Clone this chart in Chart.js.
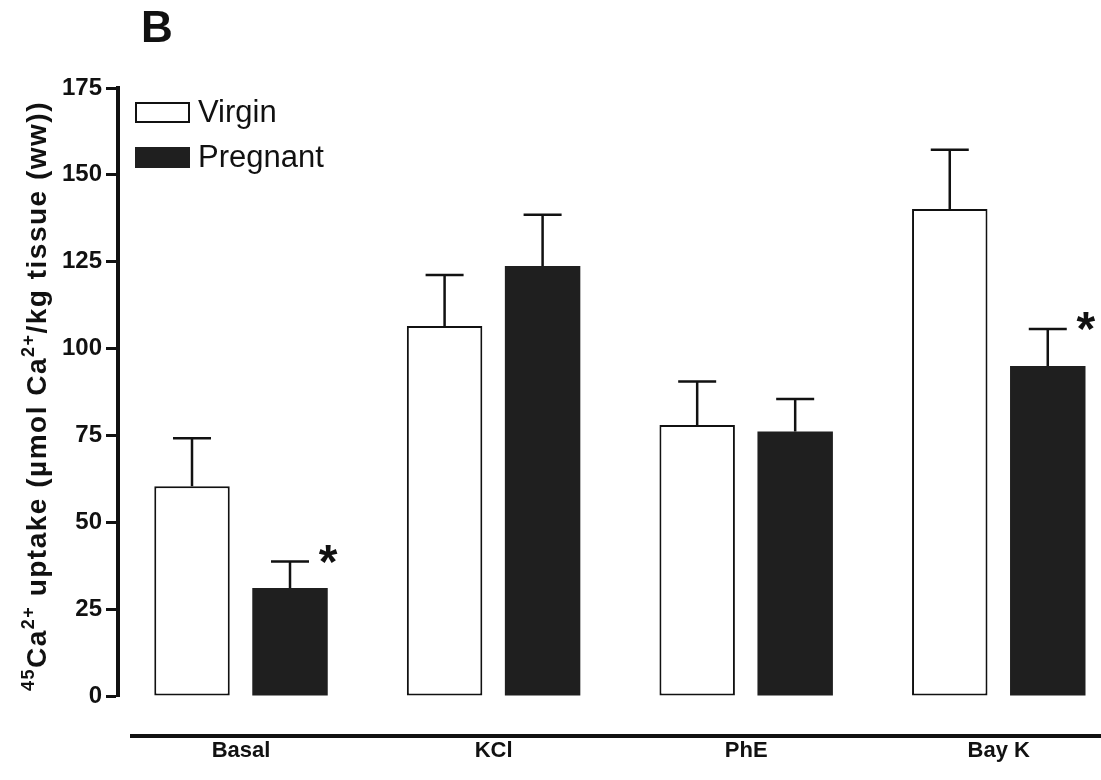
<!DOCTYPE html>
<html>
<head>
<meta charset="utf-8">
<script src="https://cdn.jsdelivr.net/npm/chart.js@4.4.1/dist/chart.umd.min.js"></script>
<style>
  html, body { margin: 0; padding: 0; background: #fff; overflow: hidden; }
  #wrap { width: 1101px; height: 780px; position: relative; }
</style>
</head>
<body>
<div id="wrap"><canvas id="myChart"></canvas></div>
<script>
// groups along the x axis
const categories = ["Basal", "KCl", "PhE", "Bay K"];

// 45Ca uptake, mean and SEM
const virginMean = [60.4, 106.5, 78.0, 140.2];
const virginSem = [13.8, 14.7, 12.5, 17.0];
const pregnantMean = [31.1, 123.8, 76.1, 95.0];
const pregnantSem = [7.6, 14.7, 9.4, 10.6];

// asterisk over pregnant bars
const pregnantStar = [true, false, false, true];

const yTicks = [0, 25, 50, 75, 100, 125, 150, 175];

const ink = "#111111";
const darkFill = "#1f1f1f";
const fontFamily = "'Liberation Sans', Arial, Helvetica, sans-serif";

const toPoints = (values) => values.map((v, i) => ({ x: i, y: v }));

// error caps, asterisks, axis line, legend and labels drawn on top
const extras = {
  id: "extras",
  afterDatasetsDraw(chart) {
    const ctx = chart.ctx;
    const yScale = chart.scales.y;
    const area = chart.chartArea;

    ctx.save();

    // one-sided SEM bars
    const sems = [virginSem, pregnantSem];
    chart.data.datasets.forEach((ds, d) => {
      const meta = chart.getDatasetMeta(d);
      meta.data.forEach((bar, i) => {
        const top = yScale.getPixelForValue(ds.data[i].y + sems[d][i]);
        ctx.strokeStyle = ink;
        ctx.lineWidth = 2.5;
        ctx.beginPath();
        ctx.moveTo(bar.x, bar.y);
        ctx.lineTo(bar.x, top);
        ctx.moveTo(bar.x - 19, top);
        ctx.lineTo(bar.x + 19, top);
        ctx.stroke();

        if (d === 1 && pregnantStar[i]) {
          ctx.fillStyle = ink;
          ctx.font = "bold 48px " + fontFamily;
          ctx.textAlign = "center";
          ctx.textBaseline = "middle";
          ctx.fillText("*", bar.x + 38, top + 3);
        }
      });
    });

    // detached x axis line
    ctx.strokeStyle = ink;
    ctx.lineWidth = 4;
    ctx.beginPath();
    ctx.moveTo(130, area.bottom + 40);
    ctx.lineTo(chart.width, area.bottom + 40);
    ctx.stroke();

    // panel letter
    ctx.fillStyle = ink;
    ctx.font = "bold 44px " + fontFamily;
    ctx.textAlign = "left";
    ctx.textBaseline = "alphabetic";
    ctx.fillText("B", 141, 42);

    // legend
    const rows = [
      { y: 102, fill: "#ffffff", stroke: true },
      { y: 147, fill: darkFill, stroke: false },
    ];
    chart.data.datasets.forEach((ds, d) => {
      const r = rows[d];
      ctx.fillStyle = r.fill;
      ctx.fillRect(135, r.y, 55, 21);
      if (r.stroke) {
        ctx.strokeStyle = ink;
        ctx.lineWidth = 2;
        ctx.strokeRect(136, r.y + 1, 53, 19);
      }
      ctx.fillStyle = ink;
      ctx.font = "31px " + fontFamily;
      ctx.textBaseline = "middle";
      ctx.fillText(ds.label, 198, r.y + 11);
    });

    // rotated y title with superscripts
    const parts = [
      { t: "45", sup: true },
      { t: "Ca" },
      { t: "2+", sup: true },
      { t: " uptake (\u00b5mol Ca" },
      { t: "2+", sup: true },
      { t: "/kg tissue (ww))" },
    ];
    const mainFont = "bold 28px " + fontFamily;
    const supFont = "bold 18px " + fontFamily;
    ctx.letterSpacing = "1.5px";
    let total = 0;
    parts.forEach((p) => {
      ctx.font = p.sup ? supFont : mainFont;
      p.w = ctx.measureText(p.t).width;
      total += p.w;
    });
    ctx.translate(46, 396);
    ctx.rotate(-Math.PI / 2);
    ctx.textBaseline = "alphabetic";
    ctx.textAlign = "left";
    let x = -total / 2;
    parts.forEach((p) => {
      ctx.font = p.sup ? supFont : mainFont;
      ctx.fillText(p.t, x, p.sup ? -12 : 0);
      x += p.w;
    });

    ctx.restore();
  },
};

const myChart = new Chart(document.getElementById("myChart"), {
  type: "bar",
  data: {
    datasets: [
      {
        label: "Virgin",
        data: toPoints(virginMean),
        backgroundColor: "#ffffff",
        borderColor: ink,
        borderWidth: 2,
        borderSkipped: false,
      },
      {
        label: "Pregnant",
        data: toPoints(pregnantMean),
        backgroundColor: darkFill,
        borderWidth: 0,
      },
    ],
  },
  options: {
    responsive: true,
    maintainAspectRatio: false,
    animation: false,
    categoryPercentage: 0.776,
    barPercentage: 0.77,
    layout: {
      padding: { top: 88, right: 6, bottom: 0, left: 0 },
    },
    plugins: {
      legend: { display: false },
      tooltip: { enabled: false },
    },
    scales: {
      x: {
        type: "linear",
        offset: false,
        min: -0.487,
        max: 3.381,
        grid: { display: false, drawTicks: false },
        border: { display: false },
        afterBuildTicks: (scale) => {
          scale.ticks = categories.map((c, i) => ({ value: i }));
        },
        afterFit: (scale) => {
          scale.height = 84;
        },
        ticks: {
          autoSkip: false,
          maxRotation: 0,
          padding: 42,
          color: ink,
          font: { family: fontFamily, size: 22, weight: "bold" },
          callback: (value) => categories[value],
        },
      },
      y: {
        min: 0,
        max: 175,
        afterBuildTicks: (scale) => {
          scale.ticks = yTicks.map((v) => ({ value: v }));
        },
        afterFit: (scale) => {
          scale.width = 118;
        },
        grid: {
          drawOnChartArea: false,
          drawTicks: true,
          tickLength: 12,
          tickWidth: 3,
          tickColor: ink,
        },
        border: { display: true, color: ink, width: 4 },
        ticks: {
          padding: 4,
          color: ink,
          font: { family: fontFamily, size: 24, weight: "bold" },
        },
      },
    },
  },
  plugins: [extras],
});
</script>
</body>
</html>
